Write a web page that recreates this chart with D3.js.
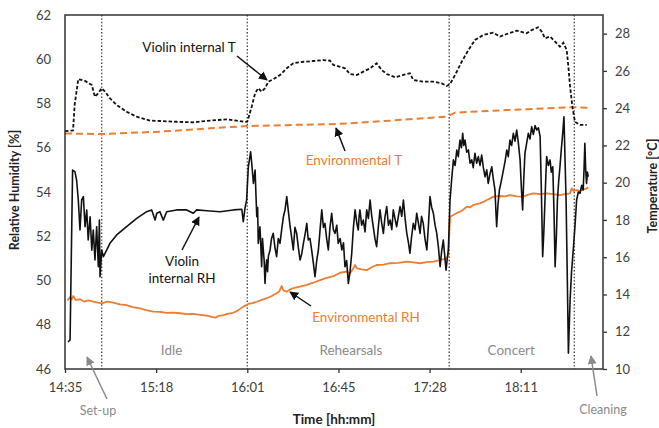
<!DOCTYPE html>
<html>
<head>
<meta charset="utf-8">
<script src="https://cdn.jsdelivr.net/npm/d3@7"></script>
<style>
  body { margin: 0; background: #fff; }
  svg text { font-family: Lato, "Open Sans", sans-serif; }
</style>
</head>
<body>
<svg id="chart" width="659" height="428"></svg>
<script>
// Time is stored as minutes elapsed since 14:35.
const xTickMinutes = [0, 43.2, 86.4, 129.6, 172.8, 216];
const xTickLabels = ["14:35", "15:18", "16:01", "16:45", "17:28", "18:11"];
const rhTicks = [46, 48, 50, 52, 54, 56, 58, 60, 62];
const tempTicks = [10, 12, 14, 16, 18, 20, 22, 24, 26, 28];

// Session boundaries (minutes) and the names of the sessions between them
const phaseBounds = [17.4, 86.4, 182.1, 241.4];
const phaseNames = ["Idle", "Rehearsals", "Concert"];
const phaseCentres = [50.5, 135.5, 211.5];

// Violin internal temperature [°C]
const violinT = [
  [0, 22.77], [3.8, 22.8], [4.6, 24.2], [6.3, 25.56], [9.5, 25.46], [12.7, 25.24],
  [14.2, 24.61], [15.8, 24.81], [17.4, 25.07], [19.0, 24.88], [21.3, 24.53],
  [24.5, 24.17], [29.2, 23.81], [34.0, 23.54], [40.3, 23.33], [45.0, 23.31],
  [52.9, 23.27], [60.7, 23.24], [68.7, 23.33], [76.6, 23.40], [81.4, 23.33],
  [85.3, 23.26], [86.4, 23.27], [88.5, 24.08], [90.1, 24.80], [91.6, 25.07],
  [93.2, 24.88], [94.8, 25.07], [96.4, 25.42], [98.7, 25.55], [101.9, 25.78],
  [105.1, 26.14], [108.2, 26.41], [113.0, 26.49], [117.7, 26.53], [122.4, 26.58],
  [125.6, 26.55], [127.2, 26.32], [130.4, 26.22], [132.7, 26.14], [135.1, 25.83],
  [138.3, 25.78], [141.4, 25.96], [144.6, 26.14], [147.7, 26.41], [150.1, 26.05],
  [152.5, 25.83], [156.4, 25.66], [160.4, 25.78], [163.5, 25.87], [165.1, 25.51],
  [169.8, 25.42], [174.6, 25.42], [178.6, 25.33], [180.9, 25.19], [182.5, 25.30],
  [184.9, 25.78], [188.0, 26.49], [191.2, 27.12], [194.3, 27.66], [198.3, 27.93],
  [203.0, 28.05], [206.2, 27.84], [209.4, 27.98], [214.1, 28.16], [218.8, 28.02],
  [221.2, 28.19], [224.3, 28.34], [226.0, 28.10], [227.5, 27.75], [229.9, 27.84],
  [232.3, 27.57], [234.6, 27.30], [236.2, 27.51], [237.8, 27.12], [238.6, 26.22],
  [239.4, 25.15], [240.5, 24.08], [241.7, 23.27], [244.1, 23.10], [247.3, 23.10]
];

// Environmental temperature [°C]
const envT = [
  [0, 22.64], [17.4, 22.61], [45.0, 22.74], [68.7, 22.92], [86.1, 23.04],
  [108.2, 23.10], [128.8, 23.15], [139.8, 23.22], [154.1, 23.33], [180.9, 23.54],
  [182.5, 23.63], [184.9, 23.76], [209.4, 23.90], [240.9, 24.05], [247.9, 24.02]
];

// Violin internal relative humidity [%]
const violinRH = [
  // set-up
  [1.4, 47.22], [2.4, 47.31], [3.6, 54.99], [4.7, 54.92], [5.5, 54.54], [6.3, 53.64],
  [7.1, 52.28], [7.9, 53.64], [8.7, 53.79], [9.5, 52.43], [10.3, 53.19], [11.0, 51.83],
  [11.9, 52.88], [12.7, 51.37], [13.4, 52.28], [14.2, 50.93], [15.0, 52.43], [15.8, 50.62],
  [16.3, 52.73], [16.6, 50.17], [17.4, 51.38], [18.2, 51.08],
  // idle
  [19.8, 51.38], [21.3, 51.68], [24.5, 52.06], [29.2, 52.43], [34.0, 52.81], [38.7, 53.11],
  [41.1, 53.19], [42.7, 52.73], [43.5, 53.04], [45.0, 53.11], [46.6, 52.73], [48.2, 53.11],
  [52.9, 53.19], [57.7, 53.19], [60.8, 53.04], [62.4, 53.19], [67.2, 53.15], [73.5, 53.11],
  [79.8, 53.19], [83.8, 53.22], [84.5, 52.66], [85.3, 53.26], [86.1, 53.64],
  // rehearsals
  [86.9, 55.14], [88.0, 55.82], [88.6, 55.2], [89.3, 54.39], [90.1, 54.99], [90.5, 53.9],
  [90.9, 52.88], [91.3, 53.3], [91.6, 51.68], [92.0, 52.0], [92.4, 52.43], [92.8, 51.6],
  [93.2, 50.62], [93.6, 51.9], [94.0, 51.38], [94.4, 50.9], [94.8, 49.87], [95.2, 50.6],
  [95.6, 50.93], [96.0, 50.4], [96.4, 51.1], [97.2, 51.38], [97.9, 51.9], [98.7, 52.13],
  [99.5, 51.5], [100.3, 51.08], [101.1, 51.9], [101.9, 51.68], [102.7, 52.3], [103.5, 52.88],
  [104.3, 53.2], [105.1, 53.79], [105.9, 53.1], [106.7, 52.43], [107.5, 51.9], [108.2, 51.38],
  [109.0, 52.4], [109.8, 52.13], [110.6, 51.5], [111.4, 50.93], [112.2, 51.2], [113.0, 51.68],
  [113.8, 52.1], [114.6, 52.58], [115.3, 51.83], [116.1, 51.9], [116.9, 51.38], [117.7, 50.8],
  [118.5, 50.17], [119.3, 50.9], [120.1, 51.38], [120.9, 52.3], [121.7, 53.19], [122.5, 52.4],
  [123.2, 52.58], [124.0, 51.9], [124.8, 51.38], [125.6, 52.4], [126.4, 53.04], [127.2, 52.3],
  [128.0, 52.13], [128.8, 52.5], [129.5, 51.68], [130.4, 51.9], [131.2, 51.38], [132.0, 51.7],
  [132.7, 50.62], [133.5, 50.9], [134.3, 49.87], [135.1, 50.4], [135.9, 51.23], [136.7, 52.4],
  [137.5, 53.19], [138.3, 52.6], [139.0, 52.28], [139.4, 52.9], [139.8, 53.19], [140.6, 52.5],
  [141.4, 52.73], [142.2, 52.2], [143.0, 53.19], [143.8, 52.8], [144.6, 53.64], [145.4, 52.9],
  [146.1, 52.43], [146.9, 51.9], [147.7, 51.53], [148.5, 52.4], [149.3, 53.19], [150.1, 52.6],
  [150.9, 52.13], [151.7, 52.9], [152.5, 53.34], [153.3, 52.5], [154.1, 52.73], [154.9, 52.3],
  [155.6, 53.19], [156.4, 52.8], [157.2, 52.43], [158.0, 52.9], [158.8, 53.34], [159.6, 52.9],
  [160.4, 53.64], [161.2, 52.8], [162.0, 52.13], [162.8, 51.7], [163.5, 51.23], [164.3, 52.0],
  [165.1, 52.58], [165.9, 52.3], [166.7, 53.04], [167.5, 52.6], [168.3, 52.13], [169.0, 52.9],
  [169.8, 52.58], [170.6, 51.9], [171.5, 51.38], [172.2, 52.4], [173.0, 53.79], [173.8, 53.3],
  [174.6, 53.04], [175.4, 52.5], [176.2, 52.13], [177.0, 51.5], [177.8, 50.62], [178.5, 51.3],
  [179.3, 51.83], [180.0, 51.1], [180.6, 50.47], [181.2, 51.0], [181.7, 51.38],
  // concert
  [182.5, 53.64], [183.3, 54.6], [184.1, 55.45], [184.9, 55.2], [185.7, 55.90], [186.4, 55.6],
  [187.2, 56.35], [187.9, 56.0], [188.5, 56.65], [189.0, 56.1], [189.6, 56.35], [190.4, 55.8],
  [191.2, 55.90], [192.0, 55.3], [192.8, 55.45], [193.5, 55.1], [194.3, 55.75], [195.1, 55.3],
  [195.9, 55.60], [196.7, 55.2], [197.5, 55.67], [198.3, 55.1], [199.1, 54.69], [199.9, 55.0],
  [200.6, 54.39], [201.4, 54.8], [202.3, 55.14], [203.0, 54.6], [203.8, 54.09], [204.2, 53.2],
  [204.6, 52.43], [205.2, 53.4], [205.9, 54.09], [206.8, 54.5], [207.8, 54.99], [208.6, 55.4],
  [209.4, 55.90], [210.1, 55.6], [210.9, 56.35], [211.7, 56.1], [212.5, 56.65], [213.3, 56.3],
  [214.1, 56.80], [214.9, 56.2], [215.7, 55.45], [216.3, 54.2], [216.9, 53.19], [217.4, 54.5],
  [218.0, 55.75], [218.8, 56.2], [219.6, 56.65], [220.4, 56.4], [221.2, 56.95], [222.0, 56.6],
  [222.8, 57.0], [223.6, 56.80], [224.4, 56.9], [225.2, 56.50], [225.8, 54.0], [226.4, 51.08],
  [227.0, 52.3], [227.5, 53.64], [227.9, 54.7], [228.3, 55.60], [229.1, 55.2], [229.9, 55.45],
  [230.5, 54.9], [231.2, 55.14], [231.8, 53.0], [232.3, 50.62], [232.9, 52.0], [233.4, 53.64],
  [234.0, 54.5], [234.6, 55.14], [235.3, 56.0], [235.9, 56.65], [236.5, 57.40], [237.0, 55.5],
  [237.5, 53.64], [238.1, 50.0], [238.6, 46.71], [239.4, 49.12], [240.1, 50.4], [240.9, 51.38],
  // cleaning
  [241.7, 52.43], [242.5, 53.64], [243.3, 54.0], [244.1, 53.94], [244.9, 54.3], [245.6, 54.09],
  [246.0, 55.0], [246.4, 56.20], [246.8, 55.0], [247.2, 54.39], [247.6, 54.9], [248.0, 54.69]
];

// Environmental relative humidity [%]
const envRH = [
  [1.2, 49.10], [2.4, 49.25], [3.2, 49.15], [3.9, 49.30], [5.0, 49.12], [7.1, 49.15],
  [9.0, 49.05], [11.0, 49.10], [13.4, 49.04], [15.5, 49.00], [17.4, 48.97], [20.0, 49.05],
  [22.9, 49.00], [26.0, 48.92], [29.2, 48.89], [32.0, 48.80], [35.6, 48.74], [38.5, 48.66],
  [41.9, 48.59], [45.0, 48.58], [48.2, 48.54], [51.0, 48.55], [54.5, 48.52], [57.5, 48.48],
  [60.8, 48.49], [64.0, 48.45], [67.2, 48.41], [69.5, 48.36], [71.1, 48.32], [73.0, 48.40],
  [75.0, 48.44], [77.5, 48.50], [79.8, 48.54], [82.0, 48.65], [84.5, 48.82], [86.9, 48.94],
  [88.8, 48.98], [90.9, 49.04], [93.3, 49.12], [95.6, 49.20], [98.0, 49.30], [100.3, 49.42],
  [101.5, 49.50], [102.7, 49.75], [103.5, 49.55], [105.1, 49.49], [106.7, 49.60], [108.2, 49.65],
  [111.4, 49.72], [114.6, 49.80], [117.7, 49.90], [120.9, 50.02], [124.0, 50.12], [127.2, 50.20],
  [130.4, 50.35], [133.5, 50.40], [135.1, 50.33], [136.7, 50.55], [137.5, 50.70], [138.3, 50.55],
  [140.6, 50.50], [143.0, 50.47], [145.4, 50.60], [147.7, 50.70], [151.0, 50.72], [154.1, 50.78],
  [158.0, 50.80], [162.0, 50.85], [165.1, 50.82], [168.3, 50.78], [171.5, 50.83], [174.6, 50.85],
  [177.8, 50.92], [180.9, 51.00], [181.7, 51.15], [182.5, 52.88], [184.1, 52.96], [185.7, 53.05],
  [187.2, 53.11], [188.8, 53.20], [190.4, 53.34], [192.0, 53.30], [193.5, 53.41], [195.1, 53.45],
  [196.7, 53.49], [198.3, 53.55], [199.9, 53.64], [201.4, 53.70], [203.0, 53.79], [206.2, 53.82],
  [208.6, 53.80], [210.9, 53.86], [214.1, 53.80], [217.2, 53.79], [219.6, 53.88], [222.0, 53.94],
  [225.2, 53.90], [228.3, 53.94], [231.4, 53.90], [234.6, 53.86], [237.0, 53.90], [239.4, 53.94],
  [240.2, 54.17], [241.0, 54.05], [242.5, 54.09], [244.1, 54.05], [245.7, 54.12], [247.0, 54.15],
  [248.0, 54.21]
];

const plot = { left: 65, right: 603, top: 15, bottom: 369 };
const black = "#111", orange = "#ED7D31", grey = "#8a8a8a";

const svg = d3.select("#chart");

const x = d3.scaleLinear().domain([0, 255]).range([plot.left, plot.right]);
const yRH = d3.scaleLinear().domain([46, 62]).range([plot.bottom, plot.top]);
const yT = d3.scaleLinear().domain([10, 29]).range([plot.bottom, plot.top]);

// arrowhead markers
const defs = svg.append("defs");
[["headBlack", black], ["headGrey", grey]].forEach(([id, col]) => {
  defs.append("marker").attr("id", id)
    .attr("viewBox", "0 0 10 10").attr("refX", 9).attr("refY", 5)
    .attr("markerWidth", 6).attr("markerHeight", 6).attr("orient", "auto")
    .append("path").attr("d", "M0,0 L10,5 L0,10 Z").attr("fill", col);
});

// session boundaries
svg.append("g").selectAll("line").data(phaseBounds).join("line")
  .attr("x1", d => x(d)).attr("x2", d => x(d))
  .attr("y1", plot.top).attr("y2", plot.bottom)
  .attr("stroke", "#444").attr("stroke-width", 1.4)
  .attr("stroke-dasharray", "1.4,2");

// session names
svg.append("g").selectAll("text").data(phaseNames).join("text")
  .attr("x", (d, i) => x(phaseCentres[i])).attr("y", 355)
  .attr("text-anchor", "middle").attr("font-size", 13.5).attr("fill", grey)
  .text(d => d);

const lineRH = d3.line().x(d => x(d[0])).y(d => yRH(d[1]));
const lineT = d3.line().x(d => x(d[0])).y(d => yT(d[1]));

svg.append("path").datum(envT).attr("d", lineT)
  .attr("fill", "none").attr("stroke", orange).attr("stroke-width", 2)
  .attr("stroke-dasharray", "7,4");
svg.append("path").datum(envRH).attr("d", lineRH)
  .attr("fill", "none").attr("stroke", orange).attr("stroke-width", 1.8)
  .attr("stroke-linejoin", "round");
svg.append("path").datum(violinRH).attr("d", lineRH)
  .attr("fill", "none").attr("stroke", black).attr("stroke-width", 1.6)
  .attr("stroke-linejoin", "round");
svg.append("path").datum(violinT).attr("d", lineT)
  .attr("fill", "none").attr("stroke", black).attr("stroke-width", 1.8)
  .attr("stroke-dasharray", "3.5,2");

// axes
const gLeft = svg.append("g").attr("transform", `translate(${plot.left},0)`)
  .call(d3.axisLeft(yRH).tickValues(rhTicks).tickSize(0).tickPadding(14));
const gRight = svg.append("g").attr("transform", `translate(${plot.right},0)`)
  .call(d3.axisRight(yT).tickValues(tempTicks).tickSizeInner(4).tickSizeOuter(0).tickPadding(8));
const gBottom = svg.append("g").attr("transform", `translate(0,${plot.bottom})`)
  .call(d3.axisBottom(x).tickValues(xTickMinutes).tickFormat((d, i) => xTickLabels[i])
    .tickSizeInner(4).tickSizeOuter(0).tickPadding(10));
[gLeft, gRight, gBottom].forEach(g => {
  g.select(".domain").remove();
  g.selectAll(".tick line").attr("stroke", "#333").attr("stroke-width", 1.3);
  g.selectAll("text").attr("font-size", 13).attr("fill", "#404040")
    .style("font-family", "Lato, 'Open Sans', sans-serif");
});

// plot frame
svg.append("rect")
  .attr("x", plot.left).attr("y", plot.top)
  .attr("width", plot.right - plot.left).attr("height", plot.bottom - plot.top)
  .attr("fill", "none").attr("stroke", "#333").attr("stroke-width", 1.5);

// axis titles
svg.append("text").attr("transform", "translate(19,190) rotate(-90)")
  .attr("text-anchor", "middle").attr("font-size", 12.5).attr("font-weight", "bold")
  .attr("fill", "#222").text("Relative Humidity [%]");
svg.append("text").attr("transform", "translate(657,186) rotate(-90)")
  .attr("text-anchor", "middle").attr("font-size", 12.5).attr("font-weight", "bold")
  .attr("fill", "#222").text("Temperature [°C]");
svg.append("text").attr("x", 334).attr("y", 424)
  .attr("text-anchor", "middle").attr("font-size", 13.5).attr("font-weight", "bold")
  .attr("fill", "#222").text("Time [hh:mm]");

// series callouts
const callouts = [
  { lines: ["Violin internal T"], x: 189, y: 52, col: black, from: [237, 56], to: [267, 80] },
  { lines: ["Environmental T"], x: 354, y: 165, col: orange, from: [345, 151], to: [336, 128] },
  { lines: ["Violin", "internal RH"], x: 182, y: 266, col: black, from: [182, 250], to: [199, 217] },
  { lines: ["Environmental RH"], x: 366, y: 322, col: orange, from: [311, 306], to: [290, 292] }
];
callouts.forEach(c => {
  const t = svg.append("text").attr("x", c.x).attr("y", c.y)
    .attr("text-anchor", "middle").attr("font-size", 13.5).attr("fill", c.col);
  c.lines.forEach((s, i) => t.append("tspan").attr("x", c.x).attr("dy", i ? 17 : 0).text(s));
  svg.append("line").attr("x1", c.from[0]).attr("y1", c.from[1])
    .attr("x2", c.to[0]).attr("y2", c.to[1])
    .attr("stroke", black).attr("stroke-width", 1.5).attr("marker-end", "url(#headBlack)");
});

// phase callouts outside the plot
const outer = [
  { text: "Set-up", x: 98, y: 415, from: [107, 399], to: [87, 357] },
  { text: "Cleaning", x: 603, y: 414, from: [597, 396], to: [591, 356] }
];
outer.forEach(c => {
  svg.append("text").attr("x", c.x).attr("y", c.y).attr("text-anchor", "middle")
    .attr("font-size", 12.5).attr("fill", grey).text(c.text);
  svg.append("line").attr("x1", c.from[0]).attr("y1", c.from[1])
    .attr("x2", c.to[0]).attr("y2", c.to[1])
    .attr("stroke", grey).attr("stroke-width", 1.5).attr("marker-end", "url(#headGrey)");
});
</script>
</body>
</html>
